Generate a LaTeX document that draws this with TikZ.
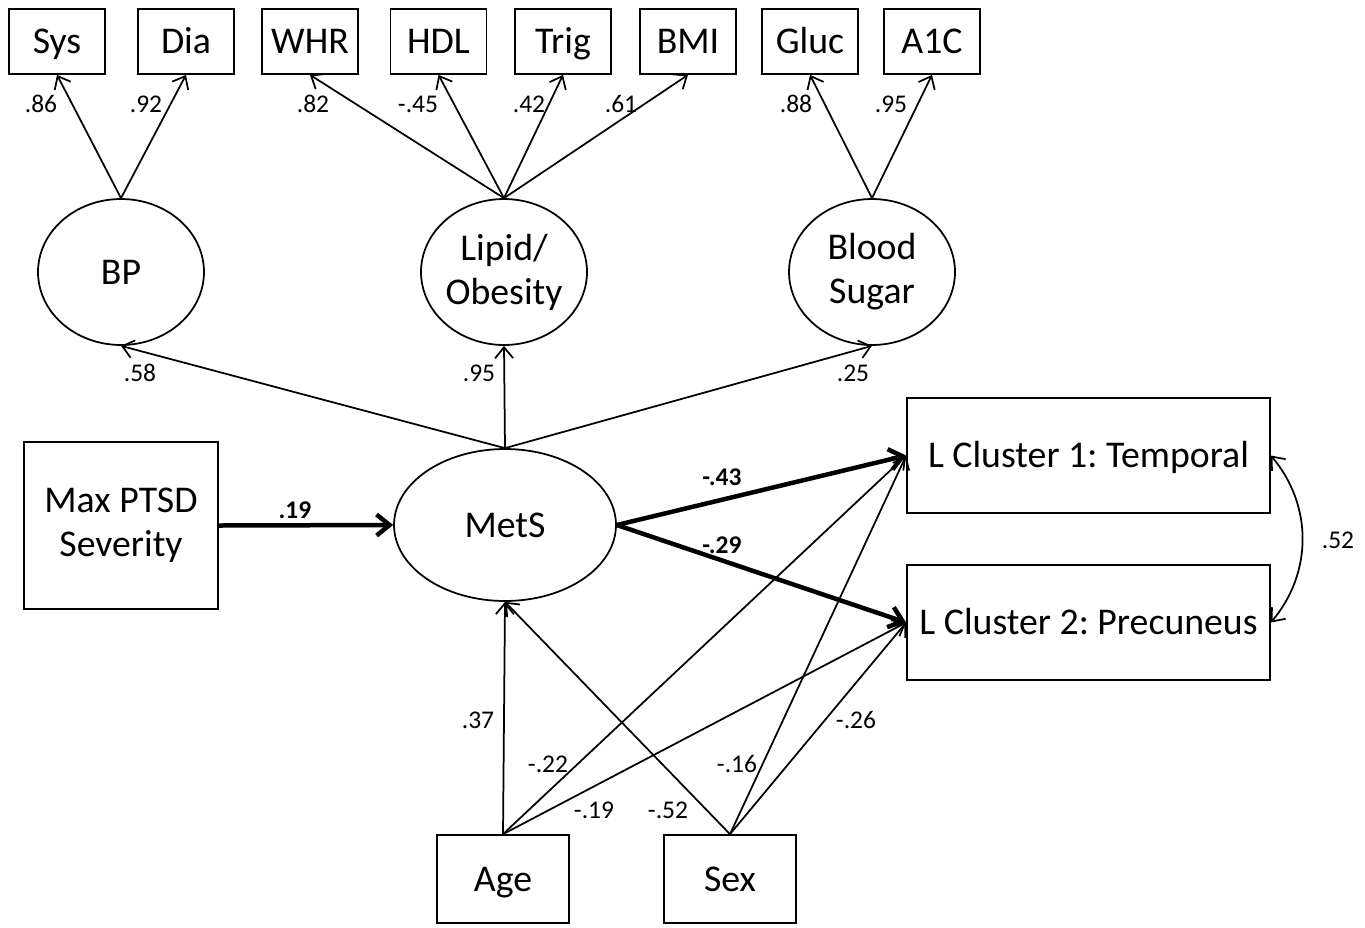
\documentclass[tikz,border=0pt]{standalone}
\usepackage{fontspec}
\setmainfont{Carlito}
\usetikzlibrary{shapes.geometric,arrows.meta}
\frenchspacing
\begin{document}
\begin{tikzpicture}[x=0.02cm,y=-0.02cm,
  obs/.style={draw,line width=0.035cm,inner sep=0pt,font=\fontsize{21.5}{25}\selectfont,align=center},
  lat/.style={draw,ellipse,line width=0.035cm,inner sep=0pt,font=\fontsize{21.5}{25}\selectfont,align=center,minimum width=3.32cm,minimum height=2.92cm},
  one/.style={text height=16pt,text depth=2pt},
  topbox/.style={obs,one,minimum width=1.92cm,minimum height=1.3cm},
  thin/.style={line width=0.035cm,-{Straight Barb[length=0.22cm,width=0.36cm]}},
  thick/.style={line width=0.09cm,-{Straight Barb[length=0.26cm,width=0.42cm]}},
  coef/.style={font=\fontsize{14.5}{16}\selectfont,inner sep=0pt},
  bcoef/.style={font=\fontsize{14.5}{16}\selectfont\bfseries,inner sep=0pt}]
\useasboundingbox (0,0) rectangle (1365,927);
% top indicator boxes
\node[topbox] (sys) at (57,41.5) {Sys};
\node[topbox] (dia) at (186,41.5) {Dia};
\node[topbox] (whr) at (310,41.5) {WHR};
\node[topbox] (hdl) at (438.5,41.5) {HDL};
\node[topbox] (trig) at (563,41.5) {Trig};
\node[topbox] (bmi) at (688,41.5) {BMI};
\node[topbox] (gluc) at (810,41.5) {Gluc};
\node[topbox] (a1c) at (932,41.5) {A1C};
% latent factors
\node[lat] (bp) at (121,272) {BP};
\node[lat] (lip) at (504,272) {Lipid/\\Obesity};
\node[lat] (bs) at (872,272) {Blood\\Sugar};
\node[lat,minimum width=4.44cm,minimum height=3.04cm] (mets) at (505,525) {MetS};
% observed
\node[obs,minimum width=3.88cm,minimum height=3.34cm] (ptsd) at (121,525.5) {Max PTSD\\Severity};
\node[obs,one,minimum width=7.26cm,minimum height=2.3cm] (l1) at (1088.5,455.5) {L Cluster 1: Temporal};
\node[obs,one,minimum width=7.26cm,minimum height=2.3cm] (l2) at (1088.5,622.5) {L Cluster 2: Precuneus};
\node[obs,one,minimum width=2.64cm,minimum height=1.76cm] (age) at (503,879) {Age};
\node[obs,one,minimum width=2.64cm,minimum height=1.76cm] (sex) at (730,879) {Sex};
% loadings
\draw[thin] (bp.north) -- (sys.south);
\draw[thin] (bp.north) -- (dia.south);
\draw[thin] (lip.north) -- (whr.south);
\draw[thin] (lip.north) -- (hdl.south);
\draw[thin] (lip.north) -- (trig.south);
\draw[thin] (lip.north) -- (bmi.south);
\draw[thin] (bs.north) -- (gluc.south);
\draw[thin] (bs.north) -- (a1c.south);
\draw[thin] (mets.north) -- (bp.south);
\draw[thin] (mets.north) -- (lip.south);
\draw[thin] (mets.north) -- (bs.south);
% structural paths
\draw[thick] (ptsd.east) -- (mets.west);
\draw[thick] (mets.east) -- (l1.west);
\draw[thick] (mets.east) -- (l2.west);
\draw[thin] (age.north) -- (mets.south);
\draw[thin] (sex.north) -- (mets.south);
\draw[thin] (age.north) -- (l1.west);
\draw[thin] (age.north) -- (l2.west);
\draw[thin] (sex.north) -- (l1.west);
\draw[thin] (sex.north) -- (l2.west);
\draw[line width=0.035cm,{Straight Barb[length=0.22cm,width=0.36cm]}-{Straight Barb[length=0.22cm,width=0.36cm]}] (l1.east) to[bend left=40] (l2.east);
% coefficient labels
\node[coef] (c1) at (41,104) {.86};
\node[coef] (c2) at (146,104) {.92};
\node[coef] (c3) at (313,104) {.82};
\node[coef] (c4) at (418,104) {-.45};
\node[coef] (c5) at (529,104) {.42};
\node[coef] (c6) at (621,104) {.61};
\node[coef] (c7) at (796,104) {.88};
\node[coef] (c8) at (891,104) {.95};
\node[coef] (c9) at (140,373) {.58};
\node[coef] (c10) at (479,373) {.95};
\node[coef] (c11) at (853,373) {.25};
\node[bcoef] (c12) at (295,510) {.19};
\node[bcoef] (c13) at (722,477) {-.43};
\node[bcoef] (c14) at (722,545) {-.29};
\node[coef] (c15) at (1338,540) {.52};
\node[coef] (c16) at (478,720) {.37};
\node[coef] (c17) at (548,764) {-.22};
\node[coef] (c18) at (594,810) {-.19};
\node[coef] (c19) at (668,810) {-.52};
\node[coef] (c20) at (737,764) {-.16};
\node[coef] (c21) at (856,720) {-.26};
\end{tikzpicture}
\end{document}
